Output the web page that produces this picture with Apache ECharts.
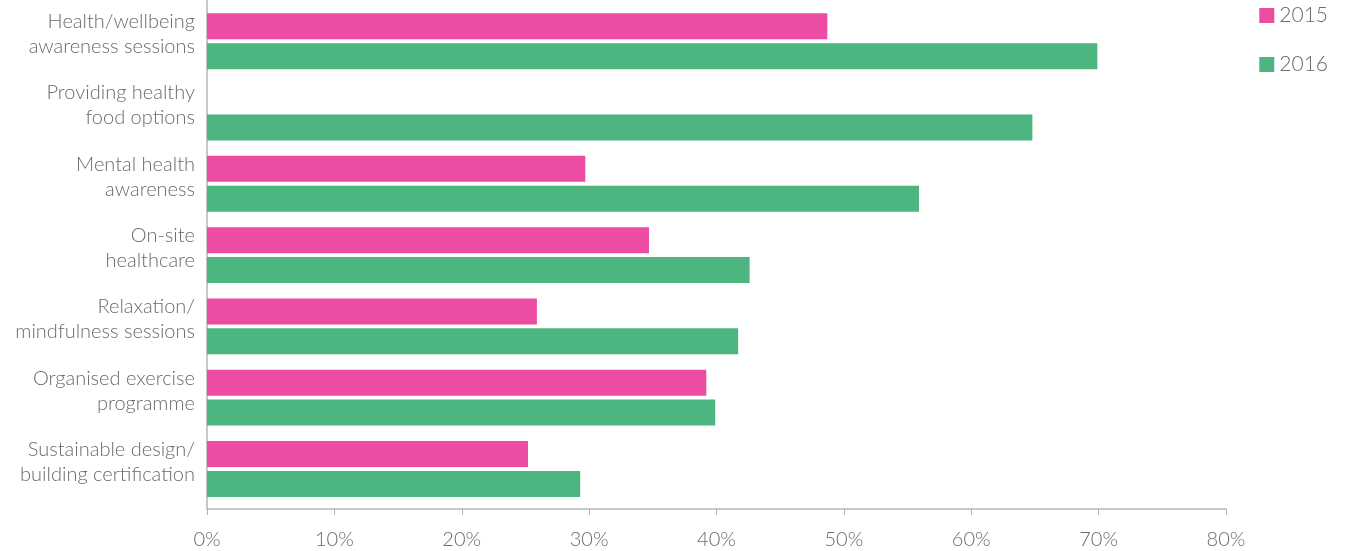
<!DOCTYPE html>
<html>
<head>
<meta charset="utf-8">
<script src="https://cdn.jsdelivr.net/npm/echarts@6/dist/echarts.min.js"></script>
<style>
  html, body { margin: 0; padding: 0; background: #fff; }
  #chart { width: 1359px; height: 551px; }
</style>
</head>
<body>
<div id="chart"></div>
<script>
var categories = [
    'Health/wellbeing\nawareness sessions',
    'Providing healthy\nfood options',
    'Mental health\nawareness',
    'On-site\nhealthcare',
    'Relaxation/\nmindfulness sessions',
    'Organised exercise\nprogramme',
    'Sustainable design/\nbuilding certification'
];
var values2015 = [48.7, null, 29.7, 34.7, 25.9, 39.2, 25.2];
var values2016 = [69.9, 64.8, 55.9, 42.6, 41.7, 39.9, 29.3];
var xTicks = [0, 10, 20, 30, 40, 50, 60, 70, 80];

var textColor = '#6a6a6a';
var fontFamily = 'Lato';

var chart = echarts.init(document.getElementById('chart'));
var option = {
    animation: false,
    textStyle: { fontFamily: fontFamily },
    legend: {
        orient: 'vertical',
        right: 26,
        top: 0,
        itemWidth: 15,
        itemHeight: 15,
        itemGap: 28,
        icon: 'rect',
        textStyle: { fontSize: 21, color: textColor, fontFamily: fontFamily, fontWeight: 300 },
        data: ['2015', '2016']
    },
    grid: [
        // bars
        { left: 207, right: 133, top: 5.6, height: 499 },
        // axis frame
        { left: 207, right: 133, top: 0, bottom: 42 }
    ],
    xAxis: [{
        gridIndex: 0,
        type: 'value',
        min: 0,
        max: 80,
        interval: 10,
        show: false
    }, {
        gridIndex: 1,
        type: 'value',
        min: xTicks[0],
        max: xTicks[xTicks.length - 1],
        interval: 10,
        splitLine: { show: false },
        axisLine: { show: true, lineStyle: { color: '#b5b5b5', width: 1.5 } },
        axisTick: { show: true, length: 6, lineStyle: { color: '#b5b5b5' } },
        axisLabel: {
            margin: 21,
            fontSize: 20,
            color: textColor,
            fontWeight: 300,
            formatter: '{value}%'
        }
    }],
    yAxis: [{
        gridIndex: 0,
        type: 'category',
        inverse: true,
        data: categories,
        axisLine: { show: false },
        axisTick: { show: false },
        axisLabel: {
            margin: 12,
            color: textColor,
            align: 'right',
            // lift the two lines a little above the bar pair centre
            formatter: function (value) {
                return value.split('\n').map(function (l) {
                    return '{a|' + l + '}';
                }).join('\n') + '\n{s| }';
            },
            rich: {
                a: { fontSize: 20, lineHeight: 25, color: textColor, fontWeight: 300, fontFamily: fontFamily, align: 'right' },
                s: { fontSize: 1, lineHeight: 14 }
            }
        }
    }, {
        gridIndex: 1,
        type: 'value',
        show: true,
        axisLine: { show: true, lineStyle: { color: '#b5b5b5', width: 1.5 } },
        axisTick: { show: false },
        axisLabel: { show: false },
        splitLine: { show: false }
    }],
    series: [{
        name: '2015',
        type: 'bar',
        xAxisIndex: 0,
        yAxisIndex: 0,
        data: values2015,
        barWidth: 26,
        barGap: '15%',
        itemStyle: { color: '#EC4DA2' }
    }, {
        name: '2016',
        type: 'bar',
        xAxisIndex: 0,
        yAxisIndex: 0,
        data: values2016,
        barWidth: 26,
        itemStyle: { color: '#4DB680' }
    }]
};
chart.setOption(option);
</script>
</body>
</html>
